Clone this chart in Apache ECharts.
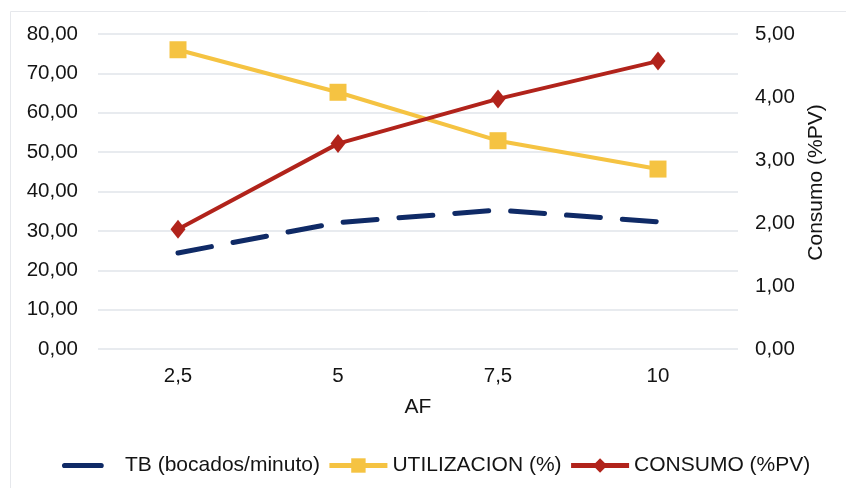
<!DOCTYPE html>
<html><head><meta charset="utf-8">
<script src="https://cdn.jsdelivr.net/npm/echarts@6/dist/echarts.min.js"></script>
<style>html,body{margin:0;padding:0;background:#fff}#c{width:846px;height:488px}</style>
</head><body><div id="c"></div>
<script>
const categories = ['2,5', '5', '7,5', '10'];
const tb = [24.4, 32.1, 35.3, 32.3];
const utilizacion = [76.0, 65.2, 52.9, 45.7];
const consumo = [1.90, 3.26, 3.97, 4.57];
const leftTicks = {min: 0, max: 80, interval: 10};
const rightTicks = {min: 0, max: 5, interval: 1};
const fmt = v => v.toFixed(2).replace('.', ',');
const FONT = '"Liberation Sans", Arial, sans-serif';
const TXT = '#141414';
const tbIcon = 'path://M0,0 L0.003,0 L0,0.003 Z M1,0.31 L0.997,0.31 L1,0.307 Z ' +
  'M0.045,0.11 L0.675,0.11 A0.045,0.045 0 0 1 0.675,0.2 L0.045,0.2 A0.045,0.045 0 0 1 0.045,0.11 Z';
const chart = echarts.init(document.getElementById('c'));
chart.setOption({
  animation: false,
  backgroundColor: '#fff',
  textStyle: {fontFamily: FONT},
  graphic: [{type: 'rect', shape: {x: 10.5, y: 11.5, width: 850, height: 500}, style: {fill: 'none', stroke: '#e6e8ec', lineWidth: 1}, silent: true}],
  grid: {left: 98, right: 108, top: 34, bottom: 139},
  xAxis: {
    type: 'category', data: categories, boundaryGap: true,
    name: 'AF', nameLocation: 'middle', nameGap: 48,
    nameTextStyle: {fontSize: 21, color: TXT, fontFamily: FONT},
    axisLine: {show: false}, axisTick: {show: false},
    axisLabel: {fontSize: 20.5, color: TXT, margin: 17, fontFamily: FONT}
  },
  yAxis: [{
    type: 'value', min: leftTicks.min, max: leftTicks.max, interval: leftTicks.interval,
    axisLine: {show: false}, axisTick: {show: false},
    axisLabel: {fontSize: 20.5, color: TXT, margin: 20, formatter: fmt, fontFamily: FONT},
    splitLine: {lineStyle: {color: '#e1e4ea', width: 1.5}}
  }, {
    type: 'value', min: rightTicks.min, max: rightTicks.max, interval: rightTicks.interval,
    position: 'right',
    name: 'Consumo (%PV)', nameLocation: 'middle', nameGap: 68, nameRotate: 90,
    nameTextStyle: {fontSize: 21, color: TXT, fontFamily: FONT, padding: [0, 0, 0, 18]},
    axisLine: {show: false}, axisTick: {show: false},
    axisLabel: {fontSize: 20.5, color: TXT, margin: 17, formatter: fmt, fontFamily: FONT},
    splitLine: {show: false}
  }],
  legend: {
    top: 455, left: 62, itemGap: 7, itemWidth: 58, itemHeight: 18, padding: 0,
    textStyle: {fontSize: 21, color: TXT, fontFamily: FONT},
    lineStyle: {width: 5},
    data: [
      {name: 'TB (bocados/minuto)', icon: tbIcon, itemStyle: {color: '#0f2a66'}},
      'UTILIZACION (%)', 'CONSUMO (%PV)'
    ]
  },
  series: [{
    name: 'TB (bocados/minuto)', type: 'line', yAxisIndex: 0, data: tb,
    symbol: 'none', smooth: false, color: '#0f2a66',
    lineStyle: {color: '#0f2a66', width: 5, type: [34, 22], cap: 'round'}
  }, {
    name: 'UTILIZACION (%)', type: 'line', yAxisIndex: 0, data: utilizacion,
    symbol: 'rect', symbolSize: 17, color: '#f5c342',
    itemStyle: {color: '#f5c342'},
    lineStyle: {color: '#f5c342', width: 4}
  }, {
    name: 'CONSUMO (%PV)', type: 'line', yAxisIndex: 1, data: consumo,
    symbol: 'diamond', symbolSize: [15, 19], color: '#b1231b',
    itemStyle: {color: '#b1231b'},
    lineStyle: {color: '#b1231b', width: 4}
  }]
});
</script></body></html>
